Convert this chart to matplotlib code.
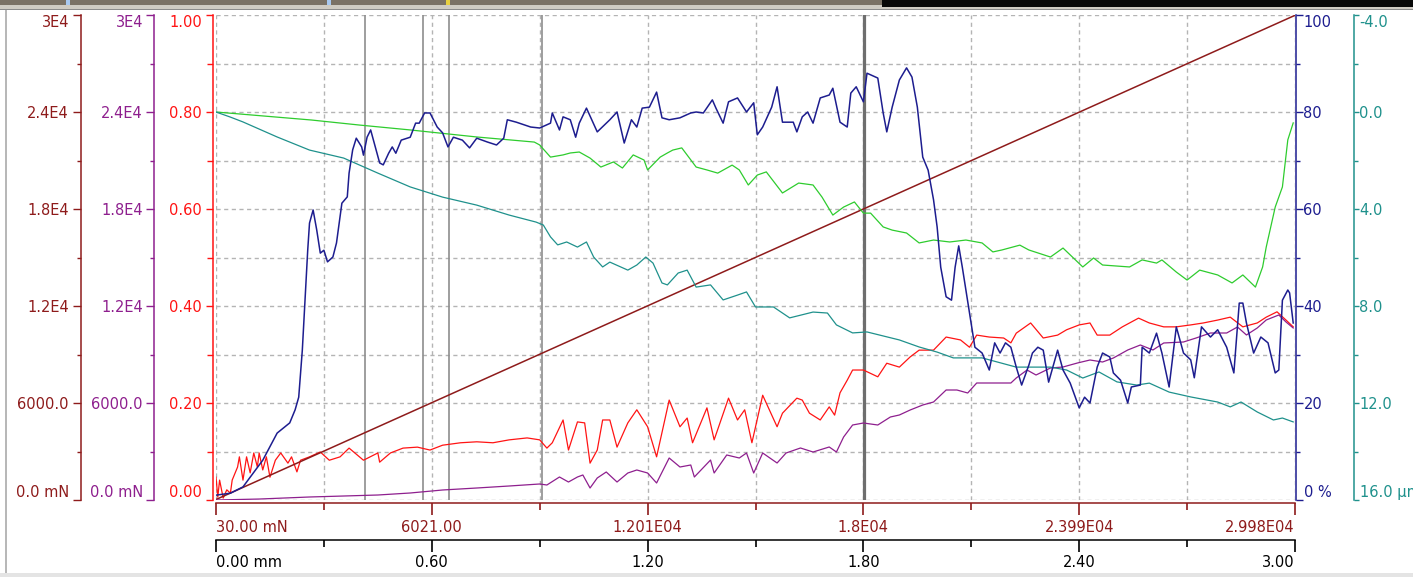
import matplotlib
matplotlib.use("Agg")
import matplotlib.pyplot as plt
from matplotlib.patches import Rectangle

plt.rcParams['font.family'] = ['DejaVu Sans']
FS = 10.5

# ---------------------------------------------------------------- data
# scratch position axis (mm) and normal-load ramp (mN) at the labelled ticks
pos_mm = [0.0, 0.6, 1.2, 1.8, 2.4, 3.0]
pos_labels = ["0.00 mm", "0.60", "1.20", "1.80", "2.40", "3.00"]
load_mn = [30.0, 6021.0, 12010.0, 18000.0, 23990.0, 29980.0]
load_labels = ["30.00 mN", "6021.00", "1.201E04", "1.8E04", "2.399E04", "2.998E04"]

# acoustic emission (%)
ae_mm = [0.00, 0.04, 0.075, 0.13, 0.17, 0.205, 0.22, 0.23, 0.24, 0.255, 0.26, 0.27, 0.28, 0.29,
         0.30, 0.31, 0.325, 0.335, 0.35, 0.365, 0.37, 0.38, 0.39, 0.405, 0.41, 0.42, 0.43, 0.44,
         0.455, 0.465, 0.48, 0.49, 0.50, 0.515, 0.54, 0.555, 0.565, 0.58, 0.595, 0.615, 0.63,
         0.645, 0.66, 0.685, 0.705, 0.725, 0.755, 0.78, 0.80, 0.81, 0.835, 0.875, 0.90, 0.93,
         0.935, 0.955, 0.965, 0.985, 1.00, 1.01, 1.03, 1.06, 1.085, 1.095, 1.115, 1.135, 1.155,
         1.17, 1.185, 1.205, 1.225, 1.24, 1.26, 1.29, 1.32, 1.335, 1.355, 1.38, 1.39, 1.41, 1.425,
         1.45, 1.475, 1.495, 1.505, 1.52, 1.545, 1.56, 1.575, 1.605, 1.615, 1.63, 1.645, 1.66,
         1.68, 1.705, 1.715, 1.735, 1.755, 1.765, 1.78, 1.80, 1.81, 1.84, 1.855, 1.865, 1.88,
         1.90, 1.92, 1.935, 1.95, 1.965, 1.98, 1.995, 2.005, 2.015, 2.03, 2.045, 2.055, 2.065,
         2.075, 2.095, 2.11, 2.13, 2.15, 2.165, 2.18, 2.195, 2.21, 2.225, 2.24, 2.26, 2.27,
         2.285, 2.30, 2.315, 2.34, 2.355, 2.375, 2.40, 2.415, 2.43, 2.45, 2.465, 2.485, 2.495,
         2.515, 2.535, 2.545, 2.57, 2.575, 2.595, 2.615, 2.63, 2.65, 2.67, 2.69, 2.71, 2.72,
         2.74, 2.765, 2.785, 2.81, 2.83, 2.845, 2.855, 2.865, 2.885, 2.905, 2.925, 2.945, 2.955,
         2.965, 2.98, 2.985, 2.995]
ae_pct = [1.0, 1.4, 2.7, 8.2, 13.8, 15.9, 18.6, 21.2, 30.9, 51.5, 57.1, 59.8, 55.7, 50.9,
          51.5, 49.1, 50.1, 53.0, 61.2, 62.5, 67.4, 72.2, 74.6, 72.8, 71.1, 74.8, 76.3, 73.6,
          69.5, 69.1, 71.5, 72.8, 71.5, 74.2, 74.8, 77.7, 77.7, 79.8, 79.8, 76.9, 75.7,
          72.8, 74.8, 74.2, 72.6, 74.6, 73.8, 73.2, 74.6, 78.4, 77.9, 76.9, 76.7, 77.7,
          79.8, 76.3, 79.0, 78.4, 74.8, 77.7, 80.8, 75.9, 77.7, 78.4, 80.0, 73.6, 78.4,
          76.9, 80.8, 81.0, 84.1, 78.8, 78.4, 78.8, 79.8, 80.0, 79.8, 82.5, 80.8, 77.7, 82.1,
          82.9, 80.0, 81.9, 75.3, 76.9, 81.0, 85.2, 77.9, 77.9, 75.9, 79.0, 80.0, 77.7,
          82.9, 83.5, 84.9, 77.9, 76.9, 83.9, 85.2, 82.1, 88.0, 87.0, 79.8, 75.9, 81.0,
          86.6, 89.1, 87.2, 81.0, 70.7, 68.0, 61.9, 56.3, 48.0, 41.9, 41.2, 48.0, 52.4,
          48.0, 38.6, 31.5, 30.3, 26.8, 32.4, 30.3, 32.4, 31.5, 27.4, 23.7, 27.8, 30.3,
          31.5, 30.9, 24.3, 30.9, 26.8, 24.1, 19.0, 21.2, 20.0, 27.4, 30.3, 29.5, 26.2,
          24.7, 20.0, 23.3, 23.7, 31.5, 30.3, 34.4, 30.3, 23.3, 35.7, 30.3, 28.9, 25.2,
          35.7, 33.6, 35.1, 31.5, 26.2, 40.6, 40.6, 36.5, 30.3, 33.6, 32.4, 26.2, 26.8,
          41.2, 43.3, 42.7, 36.5]

# friction coefficient
cof_mm = [0.0, 0.005, 0.01, 0.02, 0.03, 0.04, 0.045, 0.06, 0.065, 0.075, 0.085, 0.095, 0.105,
          0.115, 0.12, 0.13, 0.14, 0.15, 0.165, 0.18, 0.20, 0.21, 0.225, 0.235, 0.26, 0.29,
          0.315, 0.345, 0.37, 0.41, 0.45, 0.455, 0.485, 0.52, 0.56, 0.595, 0.63, 0.68, 0.725,
          0.77, 0.815, 0.865, 0.90, 0.92, 0.935, 0.965, 0.98, 1.005, 1.025, 1.04, 1.06, 1.075,
          1.095, 1.115, 1.145, 1.17, 1.20, 1.225, 1.26, 1.29, 1.31, 1.325, 1.365, 1.385, 1.425,
          1.45, 1.47, 1.49, 1.52, 1.56, 1.575, 1.615, 1.63, 1.65, 1.68, 1.705, 1.72, 1.735,
          1.755, 1.77, 1.80, 1.84, 1.865, 1.90, 1.93, 1.955, 1.995, 2.03, 2.07, 2.095, 2.115,
          2.15, 2.19, 2.21, 2.225, 2.265, 2.30, 2.34, 2.365, 2.40, 2.43, 2.45, 2.485, 2.52,
          2.565, 2.595, 2.635, 2.67, 2.71, 2.745, 2.785, 2.82, 2.855, 2.895, 2.92, 2.95, 2.975,
          2.995]
cof = [0.047, 0.006, 0.041, 0.004, 0.021, 0.014, 0.041, 0.068, 0.089, 0.041, 0.089, 0.056, 0.097,
       0.068, 0.097, 0.062, 0.089, 0.047, 0.082, 0.097, 0.076, 0.089, 0.058, 0.082, 0.089, 0.099,
       0.082, 0.089, 0.107, 0.082, 0.097, 0.078, 0.097, 0.107, 0.109, 0.103, 0.113, 0.118, 0.120,
       0.118, 0.124, 0.128, 0.124, 0.107, 0.118, 0.165, 0.103, 0.161, 0.159, 0.076, 0.103, 0.165,
       0.165, 0.109, 0.159, 0.186, 0.151, 0.089, 0.206, 0.151, 0.169, 0.118, 0.190, 0.124, 0.210,
       0.165, 0.186, 0.118, 0.216, 0.151, 0.179, 0.210, 0.206, 0.179, 0.165, 0.192, 0.175, 0.221,
       0.247, 0.268, 0.268, 0.254, 0.282, 0.274, 0.295, 0.309, 0.309, 0.336, 0.330, 0.315, 0.340,
       0.336, 0.334, 0.324, 0.344, 0.365, 0.334, 0.340, 0.351, 0.361, 0.365, 0.340, 0.340, 0.357,
       0.375, 0.365, 0.357, 0.357, 0.361, 0.365, 0.371, 0.377, 0.357, 0.365, 0.377, 0.388, 0.371,
       0.357]

# tangential (friction) force, mN
ft_mm = [0.0, 0.12, 0.26, 0.355, 0.45, 0.54, 0.63, 0.725, 0.815, 0.90, 0.92, 0.955, 0.98, 1.005,
         1.02, 1.04, 1.06, 1.085, 1.115, 1.145, 1.17, 1.20, 1.225, 1.26, 1.29, 1.32, 1.33, 1.375,
         1.385, 1.42, 1.455, 1.475, 1.495, 1.52, 1.56, 1.585, 1.625, 1.66, 1.705, 1.725, 1.745,
         1.77, 1.80, 1.84, 1.875, 1.90, 1.93, 1.965, 1.995, 2.03, 2.06, 2.09, 2.115, 2.16, 2.21,
         2.225, 2.255, 2.28, 2.32, 2.355, 2.395, 2.43, 2.465, 2.495, 2.535, 2.57, 2.605, 2.635,
         2.69, 2.725, 2.765, 2.81, 2.84, 2.865, 2.895, 2.92, 2.955, 2.975, 2.995]
ft_mn = [0, 60, 186, 247, 309, 433, 619, 742, 866, 990, 928, 1423, 1113, 1423,
         1547, 742, 1361, 1732, 1113, 1670, 1856, 1670, 1052, 2598, 2041, 2165, 1423, 2474,
         1670, 2784, 2598, 2907, 1670, 2907, 2289, 2907, 3217, 2969, 3279, 2969, 3897,
         4639, 4763, 4639, 5134, 5258, 5567, 5876, 6062, 6804, 6804, 6619, 7237, 7237, 7237,
         7547, 8041, 7732, 8165, 8227, 8474, 8660, 8536, 8784, 9279, 9588, 9279, 9712,
         9774, 10021, 10330, 10330, 10701, 10207, 10640, 11135, 11444, 11011, 10640]

# residual depth, um
rd_mm = [0.0, 0.265, 0.40, 0.54, 0.725, 0.885, 0.90, 0.93, 0.965, 0.985, 1.01, 1.04, 1.07, 1.105,
         1.13, 1.16, 1.19, 1.20, 1.235, 1.255, 1.27, 1.295, 1.335, 1.365, 1.395, 1.435, 1.455,
         1.48, 1.505, 1.53, 1.575, 1.62, 1.66, 1.685, 1.715, 1.745, 1.775, 1.80, 1.82, 1.855,
         1.88, 1.92, 1.955, 1.995, 2.04, 2.085, 2.13, 2.16, 2.185, 2.235, 2.26, 2.32, 2.355,
         2.41, 2.44, 2.465, 2.54, 2.575, 2.615, 2.63, 2.67, 2.70, 2.735, 2.785, 2.825, 2.855,
         2.89, 2.91, 2.92, 2.945, 2.965, 2.98, 2.995]
rd_um = [0.0, 0.33, 0.54, 0.74, 1.03, 1.24, 1.36, 1.86, 1.77, 1.69, 1.65, 1.90, 2.27, 2.06,
         2.31, 1.77, 1.98, 2.39, 1.86, 1.69, 1.57, 1.48, 2.27, 2.39, 2.52, 2.19, 2.39,
         3.01, 2.60, 2.47, 3.34, 2.93, 3.01, 3.51, 4.25, 3.92, 3.71, 4.17, 4.17, 4.74,
         4.87, 4.99, 5.40, 5.28, 5.36, 5.28, 5.40, 5.77, 5.69, 5.49, 5.69, 5.98, 5.61,
         6.39, 6.02, 6.31, 6.39, 6.10, 6.23, 6.10, 6.60, 6.93, 6.52, 6.72, 7.05, 6.72,
         7.22, 6.39, 5.57, 3.92, 3.09, 1.15, 0.45]

# penetration depth, um
pd_mm = [0.0, 0.04, 0.075, 0.17, 0.26, 0.355, 0.45, 0.54, 0.63, 0.725, 0.815, 0.89, 0.91, 0.93,
         0.95, 0.975, 1.005, 1.03, 1.05, 1.075, 1.095, 1.145, 1.17, 1.195, 1.215, 1.24, 1.255,
         1.285, 1.31, 1.335, 1.375, 1.41, 1.45, 1.475, 1.50, 1.55, 1.595, 1.66, 1.70, 1.725,
         1.77, 1.81, 1.90, 1.955, 2.005, 2.05, 2.13, 2.225, 2.32, 2.365, 2.41, 2.455, 2.505,
         2.56, 2.595, 2.65, 2.71, 2.785, 2.82, 2.85, 2.895, 2.94, 2.965, 2.995]
pd_um = [0.0, 0.21, 0.41, 1.03, 1.57, 1.90, 2.52, 3.09, 3.51, 3.84, 4.25, 4.54, 4.66, 5.15,
         5.48, 5.36, 5.57, 5.36, 5.98, 6.39, 6.19, 6.52, 6.31, 5.98, 6.23, 7.05, 7.13,
         6.64, 6.52, 7.22, 7.13, 7.75, 7.55, 7.42, 8.04, 8.04, 8.49, 8.25, 8.29, 8.78,
         9.11, 9.07, 9.40, 9.69, 9.90, 10.14, 10.14, 10.52, 10.52, 10.64, 10.97, 10.72, 11.13,
         11.26, 11.18, 11.55, 11.75, 11.96, 12.16, 11.96, 12.37, 12.70, 12.62, 12.78]

# detected events along the track (mm)
event_mm = [0.414, 0.576, 0.648, 0.906]
main_event_mm = [1.802]

# axis scales
force_ticks = [0, 6000, 12000, 18000, 24000, 30000]
force_labels = ["0.0 mN", "6000.0", "1.2E4", "1.8E4", "2.4E4", "3E4"]
cof_ticks = [0.0, 0.2, 0.4, 0.6, 0.8, 1.0]
cof_labels = ["0.00", "0.20", "0.40", "0.60", "0.80", "1.00"]
ae_ticks = [0, 20, 40, 60, 80, 100]
ae_labels = ["0 %", "20", "40", "60", "80", "100"]
depth_ticks = [-4, 0, 4, 8, 12, 16]
depth_labels = ["-4.0", "0.0", "4.0", "8.0", "12.0", "16.0 \u00b5m"]

# ---------------------------------------------------------------- colours
C_FN = '#8e1b1b'
C_FT = '#8e1f8e'
C_COF = '#ff1414'
C_AE = '#1d1d8f'
C_PD = '#1f918c'
C_RD = '#2ecc2e'
C_GRID = '#b4b4b4'

W, H = 1413, 577
PT = 0.72  # points per pixel at 100 dpi
fig = plt.figure(figsize=(W / 100, H / 100), dpi=100)
fig.patch.set_facecolor('white')

# window frame around the plot
bg = fig.add_axes([0, 0, 1, 1])
bg.set_xlim(0, W)
bg.set_ylim(H, 0)
bg.axis('off')
bg.add_patch(Rectangle((0, 0), 882, 4.5, color='#7a7165', lw=0))
bg.add_patch(Rectangle((0, 4.5), 882, 4.5, color='#cfcbc3', lw=0))
bg.add_patch(Rectangle((882, 0), W - 882, 7, color='#080808', lw=0))
bg.add_patch(Rectangle((882, 7), W - 882, 2, color='#cfcbc3', lw=0))
bg.add_patch(Rectangle((0, 9), W, 1.2, color='#8c8c8c', lw=0))
bg.add_patch(Rectangle((5, 10), 2, H - 10, color='#b8b8b8', lw=0))
bg.add_patch(Rectangle((0, H - 4), W, 4, color='#e4e4e4', lw=0))
for xs, c in [(66, '#a8c8f0'), (327, '#a8c8f0'), (446, '#e8d040')]:
    bg.add_patch(Rectangle((xs, 0), 4, 4.5, color=c, lw=0))

# ---------------------------------------------------------------- main axes
ax = fig.add_axes([216 / W, 1 - 500 / H, 1079 / W, 485 / H])
ax.set_xlim(0, 3)
ax.set_ylim(0, 1)
ax.set_axisbelow(True)
for s in ['top', 'right']:
    ax.spines[s].set_visible(False)
ax.spines['left'].set_position(('outward', 3 * PT))
ax.spines['left'].set_color(C_COF)
ax.spines['left'].set_linewidth(1.1)
ax.spines['bottom'].set_position(('outward', 3 * PT))
ax.spines['bottom'].set_color(C_FN)
ax.spines['bottom'].set_linewidth(1.1)

ax.set_yticks(cof_ticks, cof_labels)
ax.set_yticks([0.1, 0.3, 0.5, 0.7, 0.9], minor=True)
ax.tick_params(axis='y', which='major', direction='out', length=7 * PT, width=1.0,
               color=C_COF, labelcolor=C_COF, pad=4 * PT, labelsize=FS)
ax.tick_params(axis='y', which='minor', direction='out', length=6 * PT, width=1.0, color=C_COF)

ax.set_xticks(pos_mm, load_labels)
ax.set_xticks([0.3, 0.9, 1.5, 2.1, 2.7], minor=True)
ax.tick_params(axis='x', which='major', direction='out', length=12 * PT, width=1.2,
               color=C_FN, labelcolor=C_FN, pad=5 * PT, labelsize=FS)
ax.tick_params(axis='x', which='minor', direction='out', length=7 * PT, width=1.2, color=C_FN)

ax.grid(True, which='both', color=C_GRID, linewidth=1.0, linestyle=(0, (3, 2.5)))

for xv in event_mm:
    ax.axvline(xv, color='#8e8e8e', lw=1.2, zorder=1.5)
for xv in main_event_mm:
    ax.axvline(xv, color='#6e6e6e', lw=2.3, zorder=1.5)

ax.plot(cof_mm, cof, color=C_COF, lw=0.9, zorder=3)

# position scale in mm, below the load scale
axm = ax.twiny()
axm.set_xlim(0, 3)
axm.xaxis.set_ticks_position('bottom')
axm.xaxis.set_label_position('bottom')
for s in ['top', 'left', 'right']:
    axm.spines[s].set_visible(False)
axm.spines['bottom'].set_position(('outward', 40 * PT))
axm.spines['bottom'].set_color('black')
axm.spines['bottom'].set_linewidth(1.1)
axm.set_xticks(pos_mm, pos_labels)
axm.set_xticks([0.3, 0.9, 1.5, 2.1, 2.7], minor=True)
axm.tick_params(axis='x', which='major', direction='out', length=12 * PT, width=1.2,
                color='black', labelcolor='black', pad=3 * PT, labelsize=FS)
axm.tick_params(axis='x', which='minor', direction='out', length=7 * PT, width=1.2, color='black')


def side_axis(side, offset_px, color, ticks, labels, minor, ylim, tick_len, pad_px):
    a = ax.twinx()
    a.set_ylim(*ylim)
    for s in ['top', 'bottom', 'left', 'right']:
        a.spines[s].set_visible(False)
    a.spines[side].set_visible(True)
    a.spines[side].set_position(('outward', offset_px * PT))
    a.spines[side].set_color(color)
    a.spines[side].set_linewidth(1.1)
    a.yaxis.set_ticks_position(side)
    a.yaxis.set_label_position(side)
    a.set_yticks(ticks, labels)
    a.set_yticks(minor, minor=True)
    a.tick_params(axis='y', which='major', direction='out', length=tick_len * PT, width=1.0,
                  color=color, labelcolor=color, pad=pad_px * PT, labelsize=FS)
    a.tick_params(axis='y', which='minor', direction='out', length=4 * PT, width=1.0, color=color)
    return a


ax_fn = side_axis('left', 135, C_FN, force_ticks, force_labels,
                  [3000, 9000, 15000, 21000, 27000], (0, 30000), 8, 4)
ax_ft = side_axis('left', 62, C_FT, force_ticks, force_labels,
                  [3000, 9000, 15000, 21000, 27000], (0, 30000), 8, 3)
ax_d = side_axis('right', 59, C_PD, depth_ticks, depth_labels,
                 [-2, 2, 6, 10, 14], (16, -4), 5, 0.5)
ax_ae = side_axis('right', 1, C_AE, ae_ticks, ae_labels,
                  [10, 30, 50, 70, 90], (0, 100), 7, 0.5)

ax_fn.plot(pos_mm, load_mn, color=C_FN, lw=1.1)
ax_ft.plot(ft_mm, ft_mn, color=C_FT, lw=0.9)
ax_d.plot(rd_mm, rd_um, color=C_RD, lw=0.9)
ax_d.plot(pd_mm, pd_um, color=C_PD, lw=0.9)
ax_ae.plot(ae_mm, ae_pct, color=C_AE, lw=1.1)

# end labels sit inside the scale range
for a in [ax, ax_fn, ax_ft, ax_ae]:
    labs = a.get_yticklabels()
    labs[0].set_va('bottom')
    labs[-1].set_va('top')
labs = ax_d.get_yticklabels()
labs[0].set_va('top')
labs[-1].set_va('bottom')
for a in [ax, axm]:
    labs = a.get_xticklabels()
    labs[0].set_ha('left')
    labs[-1].set_ha('right')

fig.savefig('out.png', dpi=100)
